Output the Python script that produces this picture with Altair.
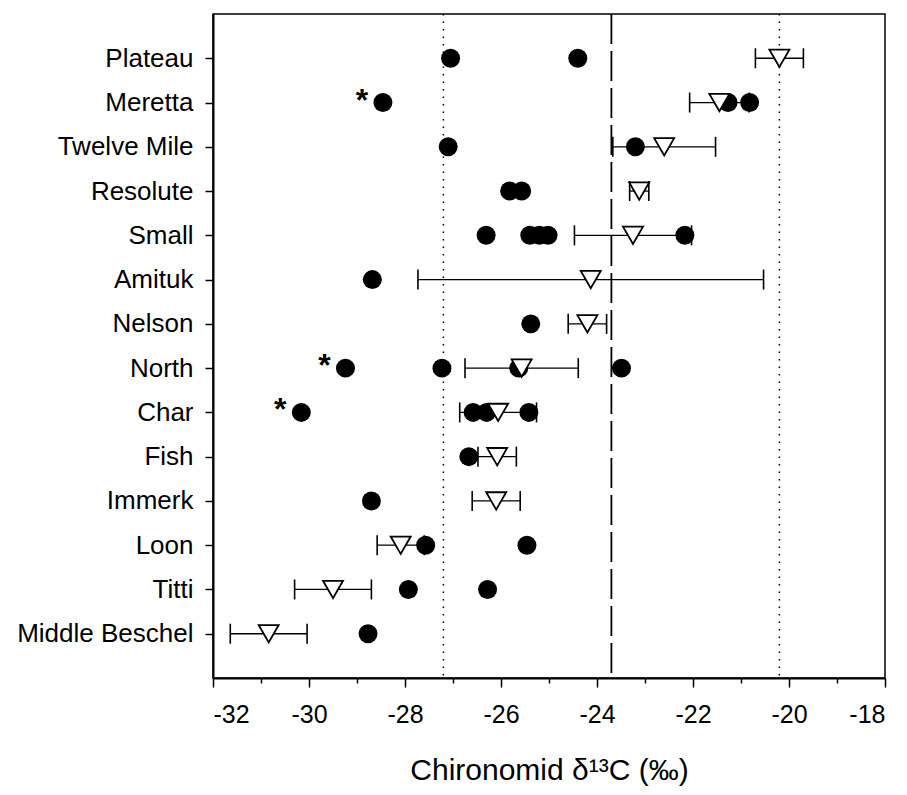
import altair as alt
import pandas as pd

# Lakes, top to bottom
lakes = ["Plateau", "Meretta", "Twelve Mile", "Resolute", "Small", "Amituk", "Nelson",
         "North", "Char", "Fish", "Immerk", "Loon", "Titti", "Middle Beschel"]

# Individual chironomid samples (filled circles)
sample_lake = ["Plateau", "Plateau",
               "Meretta", "Meretta", "Meretta",
               "Twelve Mile", "Twelve Mile",
               "Resolute", "Resolute",
               "Small", "Small", "Small", "Small", "Small",
               "Amituk",
               "Nelson",
               "North", "North", "North", "North",
               "Char", "Char", "Char", "Char",
               "Fish",
               "Immerk",
               "Loon", "Loon",
               "Titti", "Titti",
               "Middle Beschel"]
sample_d13c = [-27.05, -24.4,
               -28.46, -21.27, -20.82,
               -27.1, -23.2,
               -25.82, -25.57,
               -26.31, -25.4, -25.2, -25.02, -22.17,
               -28.68,
               -25.38,
               -29.24, -27.23, -25.63, -23.49,
               -30.16, -26.58, -26.3, -25.42,
               -26.67,
               -28.7,
               -27.57, -25.46,
               -27.93, -26.28,
               -28.77]
# 1 = sample marked with an asterisk
sample_flag = [0, 0,
               1, 0, 0,
               0, 0,
               0, 0,
               0, 0, 0, 0, 0,
               0,
               0,
               1, 0, 0, 0,
               1, 0, 0, 0,
               0,
               0,
               0, 0,
               0, 0,
               0]

# Lake means (open triangles) and error half-widths
mean_d13c = [-20.2, -21.45, -22.6, -23.12, -23.25, -24.13, -24.2,
             -25.57, -26.06, -26.08, -26.1, -28.09, -29.5, -30.84]
mean_err = [0.5, 0.62, 1.07, 0.2, 1.22, 3.6, 0.4,
            1.18, 0.8, 0.4, 0.5, 0.49, 0.8, 0.8]

# Reference lines
dotted_lines = [-27.2, -20.2]
dashed_lines = [-23.7]

samples = pd.DataFrame({"lake": sample_lake, "d13c": sample_d13c, "flag": sample_flag})
means = pd.DataFrame({"lake": lakes, "d13c": mean_d13c})
means["low"] = means["d13c"] - pd.Series(mean_err)
means["high"] = means["d13c"] + pd.Series(mean_err)
caps = pd.concat([
    pd.DataFrame({"lake": lakes, "d13c": means["low"]}),
    pd.DataFrame({"lake": lakes, "d13c": means["high"]}),
])

FONT = "Liberation Sans"

x_scale = alt.Scale(domain=[-32, -18], nice=False, zero=False)
y_scale = alt.Scale(type="point", domain=lakes, padding=1)

x_axis = alt.Axis(
    values=list(range(-32, -17)),
    labelExpr="datum.value % 2 === 0 ? '' + datum.value : ''",
    tickSize={"condition": {"test": "datum.value % 2 === 0", "value": 9}, "value": 5},
    title="Chironomid δ¹³C (‰)",
    titleFontSize=30, titleFontWeight="normal", titleFont=FONT, titleColor="black",
    titlePadding=28,
    labelFontSize=25, labelFont=FONT, labelColor="black", labelPadding=15,
    grid=False, domainColor="black", domainWidth=2, tickColor="black", tickWidth=1.5,
)
y_axis = alt.Axis(
    title=None, labelFontSize=26, labelFont=FONT, labelColor="black",
    labelPadding=12, tickSize=8, tickColor="black", tickWidth=1.5,
    grid=False, domainColor="black", domainWidth=2,
)

x_enc = alt.X("d13c:Q", scale=x_scale, axis=x_axis)
y_enc = alt.Y("lake:N", scale=y_scale, sort=lakes, axis=y_axis)

dotted = alt.Chart(pd.DataFrame({"d13c": dotted_lines})).mark_rule(
    color="black", strokeWidth=1.5, strokeDash=[1.5, 6]
).encode(x=alt.X("d13c:Q", scale=x_scale))

dashed = alt.Chart(pd.DataFrame({"d13c": dashed_lines})).mark_rule(
    color="black", strokeWidth=1.8, strokeDash=[30, 7]
).encode(x=alt.X("d13c:Q", scale=x_scale))

bars = alt.Chart(means).mark_rule(color="black", strokeWidth=1.3).encode(
    x=x_enc, x2="high:Q", y=y_enc
).transform_calculate(d13c="datum.low")

cap_marks = alt.Chart(caps).mark_tick(
    color="black", orient="vertical", size=20, thickness=1.6, opacity=1
).encode(x=alt.X("d13c:Q", scale=x_scale), y=alt.Y("lake:N", scale=y_scale, sort=lakes))

circles = alt.Chart(samples).mark_circle(size=360, color="black", opacity=1).encode(
    x=alt.X("d13c:Q", scale=x_scale), y=alt.Y("lake:N", scale=y_scale, sort=lakes)
)

triangles = alt.Chart(means).mark_point(
    shape="triangle-down", size=400, filled=True, fill="white",
    stroke="black", strokeWidth=1.8, opacity=1
).encode(x=alt.X("d13c:Q", scale=x_scale), y=alt.Y("lake:N", scale=y_scale, sort=lakes))

stars = alt.Chart(samples).transform_filter("datum.flag == 1").mark_text(
    text="*", fontSize=32, fontWeight="bold", font=FONT, color="black",
    dx=-21, dy=8, baseline="alphabetic", align="center"
).encode(x=alt.X("d13c:Q", scale=x_scale), y=alt.Y("lake:N", scale=y_scale, sort=lakes))

chart = alt.layer(
    dotted, dashed, bars, cap_marks, circles, triangles, stars
).properties(
    width=672, height=664,
    autosize=alt.AutoSizeParams(type="none"),
    padding={"left": 213, "top": 14, "right": 22, "bottom": 117},
    background="white",
).configure_view(stroke="black", strokeWidth=1.5)

chart.save("out.html", embed_options={"renderer": "svg", "actions": False})
